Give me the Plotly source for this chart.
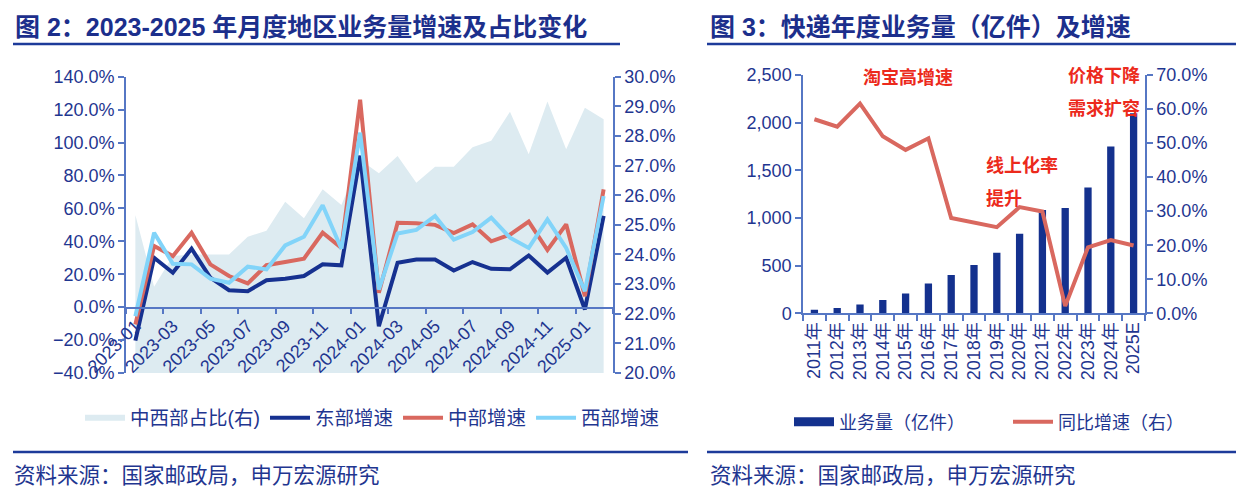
import plotly.graph_objects as go

# ---------------- data: left chart (monthly, 2023-01 .. 2025-02) ----------------
months = ["2023-01", "2023-02", "2023-03", "2023-04", "2023-05", "2023-06", "2023-07",
          "2023-08", "2023-09", "2023-10", "2023-11", "2023-12", "2024-01", "2024-02",
          "2024-03", "2024-04", "2024-05", "2024-06", "2024-07", "2024-08", "2024-09",
          "2024-10", "2024-11", "2024-12", "2025-01", "2025-02"]
share_midwest = [25.33, 22.91, 23.95, 24.0, 24.0, 24.0, 24.6, 24.8, 25.78, 25.22, 26.2, 25.67,
                 27.2, 26.74, 27.32, 26.42, 26.96, 26.96, 27.62, 27.84, 28.82, 27.38, 29.16,
                 27.55, 28.95, 28.56]
east_growth = [-20.3, 30.0, 20.9, 35.5, 17.9, 10.3, 9.7, 16.4, 17.3, 18.9, 26.0, 25.4,
               92.0, -11.6, 27.0, 29.0, 29.0, 22.3, 27.4, 23.3, 23.0, 31.4, 21.0, 30.0, -1.4, 55.4]
central_growth = [-10.5, 37.1, 31.0, 45.2, 26.0, 18.9, 14.4, 25.5, 27.4, 29.5, 45.2, 36.0,
                  126.0, 8.7, 51.3, 51.0, 50.0, 45.0, 50.3, 40.0, 44.0, 52.0, 34.7, 50.3, 6.7, 71.6]
west_growth = [-5.5, 45.2, 26.4, 26.0, 17.3, 14.8, 24.6, 22.9, 37.5, 42.8, 61.9, 35.5,
               106.0, 10.7, 44.8, 46.9, 55.4, 41.0, 45.6, 54.4, 42.2, 36.0, 53.3, 36.0, 9.7, 67.5]

# ---------------- data: right chart (annual) ----------------
years = ["2011年", "2012年", "2013年", "2014年", "2015年", "2016年", "2017年", "2018年",
         "2019年", "2020年", "2021年", "2022年", "2023年", "2024年", "2025E"]
volume = [36.7, 56.9, 91.9, 139.6, 206.7, 312.8, 400.6, 507.1, 635.2, 833.6, 1083.0,
          1105.8, 1320.7, 1750.8, 2100.0]
yoy_growth = [57.0, 54.8, 61.6, 52.0, 48.0, 51.4, 28.0, 26.6, 25.3, 31.2, 29.9, 2.1, 19.4, 21.5, 19.9]

# ---------------- styles ----------------
W, H = 1244, 495
OFF = 8  # page body margin
FONT = "Liberation Sans, Noto Sans CJK SC, sans-serif"
NAVY_TXT = "#1F3690"
TITLE_C = "#1C2F8C"
AX = "#5677C4"
AREA = "#DDEBF1"
EAST = "#163190"
CENTRAL = "#D9685F"
WEST = "#82D4F9"
BAR = "#14318E"
RED_TXT = "#EC2A1C"


def px(x):
    return (x - OFF) / W


def py(y):
    return 1 - (y - OFF) / H


tick_font = dict(family=FONT, size=18, color=NAVY_TXT)

fig = go.Figure()

# left chart
fig.add_trace(go.Scatter(x=months, y=share_midwest, name="中西部占比(右)", mode="none",
                         fill="tozeroy", fillcolor=AREA, xaxis="x", yaxis="y",
                         legend="legend", hoverinfo="skip"))
fig.add_trace(go.Scatter(x=months, y=east_growth, name="东部增速", mode="lines",
                         line=dict(color=EAST, width=4), xaxis="x", yaxis="y2", legend="legend"))
fig.add_trace(go.Scatter(x=months, y=central_growth, name="中部增速", mode="lines",
                         line=dict(color=CENTRAL, width=4), xaxis="x", yaxis="y2", legend="legend"))
fig.add_trace(go.Scatter(x=months, y=west_growth, name="西部增速", mode="lines",
                         line=dict(color=WEST, width=4), xaxis="x", yaxis="y2", legend="legend"))

# right chart
fig.add_trace(go.Bar(x=years, y=volume, name="业务量（亿件）", marker=dict(color=BAR, line=dict(width=0)),
                     xaxis="x3", yaxis="y3", showlegend=False))
# legend swatch for the bars (wide rectangle like the original)
fig.add_trace(go.Scatter(x=[None], y=[None], name="业务量（亿件）", mode="lines",
                         line=dict(color=BAR, width=9), xaxis="x3", yaxis="y3", legend="legend2"))
fig.add_trace(go.Scatter(x=years, y=yoy_growth, name="同比增速（右）", mode="lines",
                         line=dict(color=CENTRAL, width=4), xaxis="x3", yaxis="y4", legend="legend2"))

axis_common = dict(showline=True, linecolor=AX, linewidth=1.5, showgrid=False, zeroline=False,
                   ticks="outside", ticklen=6, tickcolor=AX, tickwidth=1.5, tickfont=tick_font,
                   automargin=False)

fig.update_layout(
    template="none",
    width=W, height=H,
    margin=dict(l=0, r=0, t=0, b=0, pad=0, autoexpand=False),
    paper_bgcolor="white", plot_bgcolor="rgba(0,0,0,0)",
    font=dict(family=FONT, color=NAVY_TXT),
    bargap=0.68,
    xaxis=dict(domain=[px(126), px(613)], type="category", anchor="free", position=py(307.7),
               range=[-0.5, len(months) - 0.5], tickmode="linear", tick0=0, dtick=2,
               tickson="boundaries", tickangle=-45, **axis_common),
    yaxis=dict(domain=[py(373), py(76.7)], range=[20, 30], dtick=1, tickformat=".1f",
               ticksuffix="%", side="right", anchor="x", **axis_common),
    yaxis2=dict(overlaying="y", side="left", anchor="x", range=[-40, 140], dtick=20,
                tickformat=".1f", ticksuffix="%", **axis_common),
    xaxis3=dict(domain=[px(803), px(1145)], type="category", anchor="y3",
                tickson="boundaries", tickangle=-90, **axis_common),
    yaxis3=dict(domain=[py(313.3), py(75)], range=[0, 2500], dtick=500, tickformat=",",
                side="left", anchor="x3", **axis_common),
    yaxis4=dict(overlaying="y3", side="right", anchor="x3", range=[0, 70], dtick=10,
                tickformat=".1f", ticksuffix="%", **axis_common),
    legend=dict(orientation="h", x=px(80), y=py(418), xanchor="left", yanchor="middle",
                font=dict(family=FONT, size=19.5, color=NAVY_TXT), bgcolor="rgba(0,0,0,0)",
                itemwidth=40, tracegroupgap=0),
    legend2=dict(orientation="h", x=px(789), y=py(422), xanchor="left", yanchor="middle",
                 font=dict(family=FONT, size=18, color=NAVY_TXT), bgcolor="rgba(0,0,0,0)",
                 itemwidth=40, entrywidth=164, entrywidthmode="pixels"),
    showlegend=True,
)

ann = []
ann.append(dict(text="<b>图 2：2023-2025 年月度地区业务量增速及占比变化</b>", x=px(13), y=py(27),
                xanchor="left", yanchor="middle", font=dict(family=FONT, size=25, color=TITLE_C)))
ann.append(dict(text="<b>图 3：快递年度业务量（亿件）及增速</b>", x=px(708), y=py(27),
                xanchor="left", yanchor="middle", font=dict(family=FONT, size=25, color=TITLE_C)))
ann.append(dict(text="资料来源：国家邮政局，申万宏源研究", x=px(12), y=py(476),
                xanchor="left", yanchor="middle", font=dict(family=FONT, size=21.5, color=NAVY_TXT)))
ann.append(dict(text="资料来源：国家邮政局，申万宏源研究", x=px(708), y=py(476),
                xanchor="left", yanchor="middle", font=dict(family=FONT, size=21.5, color=NAVY_TXT)))
red_font = dict(family=FONT, size=18, color=RED_TXT)
ann.append(dict(text="<b>淘宝高增速</b>", x=px(908), y=py(77), xanchor="center", yanchor="middle", font=red_font))
ann.append(dict(text="<b>价格下降</b>", x=px(1142), y=py(76), xanchor="right", yanchor="middle", font=red_font))
ann.append(dict(text="<b>需求扩容</b>", x=px(1142), y=py(109), xanchor="right", yanchor="middle", font=red_font))
ann.append(dict(text="<b>线上化率</b>", x=px(984), y=py(165), xanchor="left", yanchor="middle", font=red_font))
ann.append(dict(text="<b>提升</b>", x=px(984), y=py(198), xanchor="left", yanchor="middle", font=red_font))
for a in ann:
    a.update(xref="paper", yref="paper", showarrow=False)
fig.update_layout(annotations=ann)

line_c = "#1D3B9A"
shapes = [
    dict(type="line", xref="paper", yref="paper", x0=px(13), x1=px(620), y0=py(44), y1=py(44),
         line=dict(color=line_c, width=2.5)),
    dict(type="line", xref="paper", yref="paper", x0=px(707), x1=px(1242), y0=py(44), y1=py(44),
         line=dict(color=line_c, width=2.5)),
    dict(type="line", xref="paper", yref="paper", x0=px(13), x1=px(688), y0=py(452), y1=py(452),
         line=dict(color=line_c, width=2.5)),
    dict(type="line", xref="paper", yref="paper", x0=px(707), x1=px(1242), y0=py(452), y1=py(452),
         line=dict(color=line_c, width=2.5)),
]
fig.update_layout(shapes=shapes)

fig.write_html("out.html")
